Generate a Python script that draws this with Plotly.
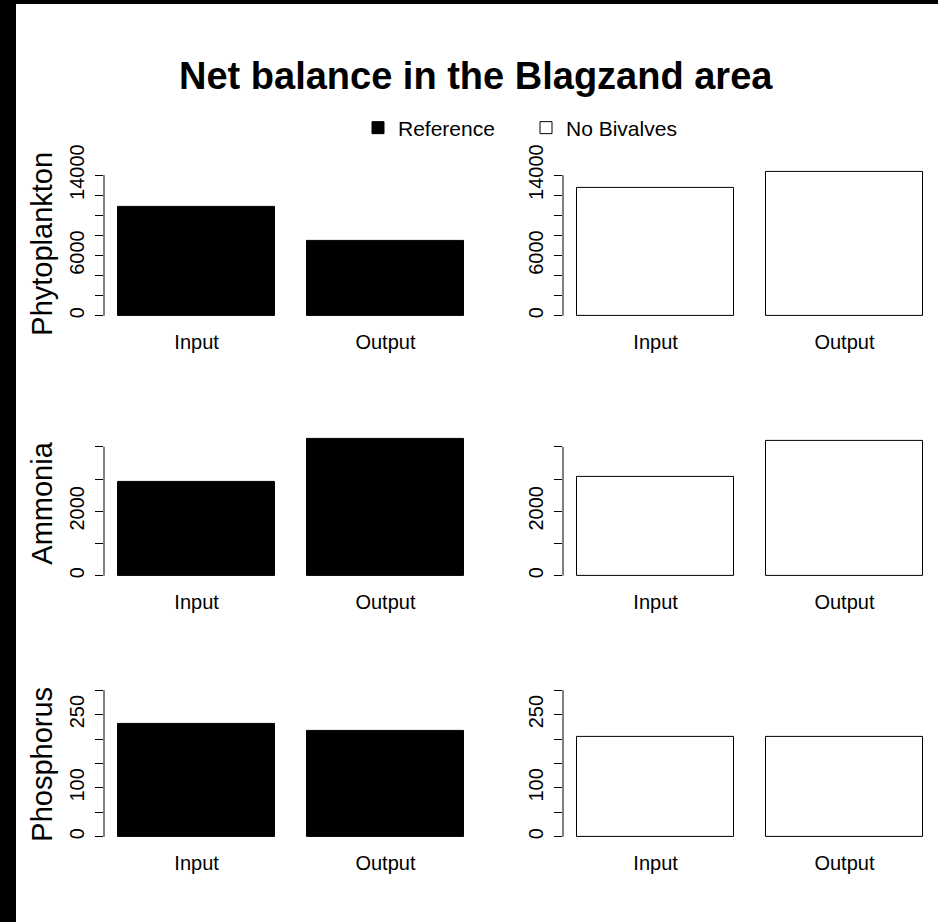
import plotly.graph_objects as go

# ---- data -------------------------------------------------------------
categories = ["Input", "Output"]
variables = ["Phytoplankton", "Ammonia", "Phosphorus"]
scenarios = ["Reference", "No Bivalves"]

phyto_reference = [10800, 7430]
phyto_no_bivalves = [12720, 14350]
ammonia_reference = [2910, 4240]
ammonia_no_bivalves = [3060, 4180]
phosphorus_reference = [232, 216]
phosphorus_no_bivalves = [205, 205]

# shared y limit per row (both scenarios use the same scale)
row_ylim = [14350, 4470, 295]

# y tick positions and which of them carry a label
phyto_ticks = [0, 2000, 4000, 6000, 8000, 10000, 12000, 14000]
phyto_labels = ["0", "", "", "6000", "", "", "", "14000"]
ammonia_ticks = [0, 1000, 2000, 3000, 4000]
ammonia_labels = ["0", "", "2000", "", ""]
phosphorus_ticks = [0, 50, 100, 150, 200, 250, 300]
phosphorus_labels = ["0", "", "100", "", "", "250", ""]

values = [
    [phyto_reference, phyto_no_bivalves],
    [ammonia_reference, ammonia_no_bivalves],
    [phosphorus_reference, phosphorus_no_bivalves],
]
ticks = [
    (phyto_ticks, phyto_labels),
    (ammonia_ticks, ammonia_labels),
    (phosphorus_ticks, phosphorus_labels),
]

# ---- layout geometry (pixels) ------------------------------------------
W, H = 938, 922
col_px = [(104, 478), (563, 937)]
row_px = [(165.9, 321.5), (425.9, 581.5), (686.9, 842.5)]

FONT = "Liberation Sans, Arial, sans-serif"
fills = ["#000000", "#ffffff"]

# barplot-style geometry: width 1, space 0.2
bar_width = 1.0
space = 0.2
centers = [space + bar_width / 2 + i * (bar_width + space) for i in range(len(categories))]
x_lo = space
x_hi = centers[-1] + bar_width / 2
pad = 0.04 * (x_hi - x_lo)
x_range = [x_lo - pad, x_hi + pad]

fig = go.Figure()
layout = {}
shapes = []
annotations = []

# dark frame bands along the left and top edges
shapes.append(dict(type="rect", xref="paper", yref="paper",
                   x0=-0.01, x1=16 / W, y0=-0.01, y1=1.01,
                   fillcolor="black", line=dict(width=0), layer="below"))
shapes.append(dict(type="rect", xref="paper", yref="paper",
                   x0=-0.01, x1=1.01, y0=1 - 4 / H, y1=1.01,
                   fillcolor="black", line=dict(width=0), layer="below"))

idx = 0
for r in range(3):
    M = row_ylim[r]
    tvals, ttext = ticks[r]
    y0p, y1p = row_px[r]
    ydom = [1 - y1p / H, 1 - y0p / H]
    for c in range(2):
        idx += 1
        xa = "x" if idx == 1 else f"x{idx}"
        ya = "y" if idx == 1 else f"y{idx}"
        xdom = [col_px[c][0] / W, col_px[c][1] / W]
        fig.add_trace(go.Bar(
            x=centers, y=values[r][c], width=bar_width,
            marker=dict(color=fills[c], line=dict(color="#000000", width=1)),
            name=scenarios[c], legendgroup=scenarios[c],
            showlegend=(r == 0), xaxis=xa, yaxis=ya,
            hoverinfo="skip",
        ))
        xkey = "xaxis" if idx == 1 else f"xaxis{idx}"
        ykey = "yaxis" if idx == 1 else f"yaxis{idx}"
        layout[xkey] = dict(
            domain=xdom, anchor=ya, range=x_range, automargin=False,
            tickvals=centers, ticktext=categories,
            showline=False, showgrid=False, zeroline=False, ticks="",
            ticklabelstandoff=6,
            tickfont=dict(family=FONT, size=20, color="#000000"),
        )
        layout[ykey] = dict(
            domain=ydom, anchor=xa, range=[-0.04 * M, 1.04 * M],
            automargin=False,
            tickvals=tvals, ticktext=ttext, tickangle=-90,
            ticks="outside", ticklen=8, tickwidth=1, tickcolor="#000000",
            showline=False, showgrid=False, zeroline=False,
            ticklabelstandoff=3,
            tickfont=dict(family=FONT, size=20, color="#000000"),
        )
        # axis line spanning only the tick range
        shapes.append(dict(type="line", xref=f"{xa} domain", yref=ya,
                           x0=0, x1=0, y0=tvals[0], y1=tvals[-1],
                           line=dict(color="#000000", width=1)))
    # row label
    annotations.append(dict(
        text=variables[r], xref="paper", yref="paper",
        x=42 / W, y=1 - (y0p + y1p) / 2 / H, textangle=-90,
        xanchor="center", yanchor="middle", showarrow=False,
        font=dict(family=FONT, size=29, color="#000000"),
    ))

annotations.append(dict(
    text="Net balance in the Blagzand area", xref="paper", yref="paper",
    x=476 / W, y=1 - 76 / H, xanchor="center", yanchor="middle",
    showarrow=False,
    font=dict(family=FONT, size=38, color="#000000", weight="bold"),
))

fig.update_layout(
    width=W, height=H,
    margin=dict(l=0, r=0, t=0, b=0, autoexpand=False),
    paper_bgcolor="white", plot_bgcolor="white",
    barmode="group", bargap=0,
    shapes=shapes, annotations=annotations,
    legend=dict(orientation="h", x=358 / W, xanchor="left",
                y=1 - 128 / H, yanchor="middle",
                entrywidth=123, bgcolor="rgba(0,0,0,0)",
                font=dict(family=FONT, size=21, color="#000000"),
                itemclick=False, itemdoubleclick=False),
    **layout,
)

fig.write_html("out.html")
